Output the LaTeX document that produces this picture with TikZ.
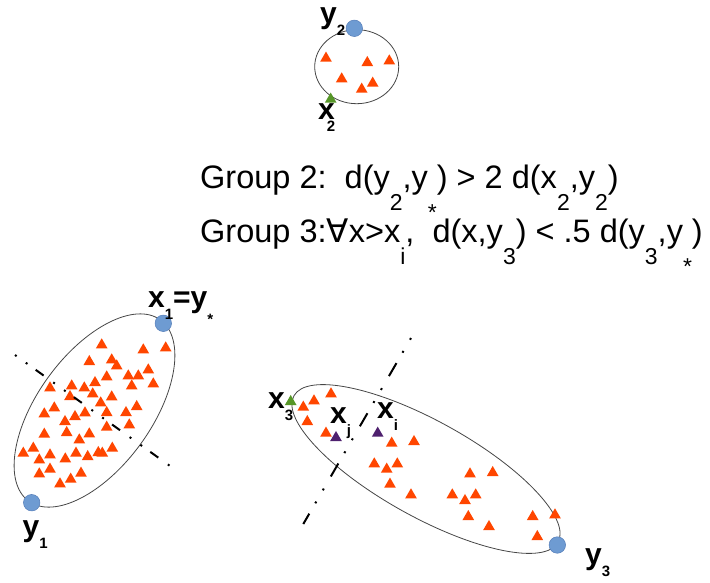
\documentclass[tikz,border=0pt]{standalone}
\usepackage{fontspec}
\setmainfont{Liberation Sans}
\newfontfamily\symfont{DejaVu Sans}
\usetikzlibrary{shapes.geometric}
\definecolor{ptorange}{RGB}{255,70,0}
\definecolor{ptgreen}{RGB}{86,150,40}
\definecolor{ptpurple}{RGB}{78,32,110}
\definecolor{ptblue}{RGB}{110,155,210}
\definecolor{ptblueedge}{RGB}{85,125,185}
\definecolor{rimgray}{RGB}{70,70,70}
\newcommand\tsub[1]{\raisebox{-22pt}{\fontsize{23}{23}\selectfont #1}}
\newcommand\tstar{\raisebox{-32pt}{\fontsize{23}{23}\selectfont *}}
\newcommand\lsub[1]{\raisebox{-12pt}{\fontsize{15}{15}\selectfont #1}}
\newcommand\lstar{\raisebox{-17pt}{\fontsize{15}{15}\selectfont *}}

\begin{document}
\begin{tikzpicture}[x=1pt,y=-1pt,
  tri/.style={regular polygon,regular polygon sides=3,minimum size=13.5pt,inner sep=0pt,fill=#1},
  bluept/.style={circle,fill=ptblue,draw=ptblueedge,line width=0.5pt,minimum size=16.5pt,inner sep=0pt},
  rim/.style={ellipse,draw=rimgray,line width=0.8pt,inner sep=0pt},
  lbl/.style={font=\fontsize{30}{30}\selectfont\bfseries,inner sep=0pt,anchor=base west},
  eqline/.style={font=\fontsize{32.5}{36}\selectfont,inner sep=0pt,anchor=base west},
  cutline/.style={line width=2pt}
]
  \useasboundingbox (0,0) rectangle (710,582);
  % Group 1
  \node[rim,minimum width=224pt,minimum height=114pt,rotate=54] (g1) at (94.5,410.5) {};
  \foreach \px/\py [count=\k] in {101.7/345,143.3/350,165.7/348,89.3/361.7,111.7/360,116.7/366,
      128.3/376,138.3/376,148.3/370,106.7/377,95/382.7,131.7/386,153.3/384,50/388,71.7/386,
      84.3/388,70/396.7,92.7/394,111.7/397,100.7/403,54.3/408,44.3/414,85/413,75/416.7,65/421.7,
      106.7/412.7,126/412.7,136.7/406.7,129.3/425,106.7/427.3,66.7/432.7,44.3/434.3,89.3/434,
      79.3/440,33.3/448.3,23.3/453.3,50/455,39.3/460,65.3/459,76/453.3,87.7/456.7,98.3/452.7,
      102.3/453.3,112.3/448.3,50/469.3,39.3/474,81/473.3,70.7/479.3,60/484}
    \node[tri=ptorange] (a\k) at (\px,\py) {};
  \coordinate (c1a) at (15,355);
  \coordinate (c1b) at (170,466);
  \draw[cutline,dash pattern=on 2pt off 11.3pt on 2pt off 10.1pt on 9.8pt off 11.8pt] (c1a) -- (c1b);
  \node[bluept] (y1) at (31.7,502.7) {};
  \node[bluept] (x1) at (163.3,323.3) {};
  \node[lbl] (ly1) at (22.5,536) {y\lsub{1}};
  \node[lbl] (lx1) at (148,307) {x\lsub{1}=y\lstar};
  % Group 2
  \node[rim,minimum width=84pt,minimum height=74pt] (g2) at (356.7,66.7) {};
  \foreach \px/\py [count=\k] in {326/58.3,367.3/62.7,389.3/61,341.7/79,372.7/83.3,361.7/89.3}
    \node[tri=ptorange] (b\k) at (\px,\py) {};
  \node[bluept] (y2) at (354.3,28.3) {};
  \node[tri=ptgreen] (x2) at (330.7,99.3) {};
  \node[lbl] (ly2) at (320,23) {y\lsub{2}};
  \node[lbl] (lx2) at (318,119) {x\hspace{-8pt}\lsub{2}};
  % Group 3
  \node[rim,minimum width=302pt,minimum height=96pt,rotate=-29] (g3) at (426,469) {};
  \foreach \px/\py [count=\k] in {331/394,314/401,303.3/407.3,307.3/421.7,326/433.3,391.7/443.3,
      414/441.7,374.3/464,386.7/469.3,397.3/464,390/484.3,411/495,470/474,492.7/472.7,452.3/495,
      465/500.7,475.7/495,468.3/516.7,489/526.7,532.7/516.7,555/515,537.3/536.7}
    \node[tri=ptorange] (c\k) at (\px,\py) {};
  \coordinate (c3a) at (411,338);
  \coordinate (c3b) at (303.3,524);
  \draw[cutline,dash pattern=on 2pt off 13pt on 2pt off 12pt on 15pt off 14pt] (c3a) -- (c3b);
  \node[tri=ptgreen] (x3) at (290.7,401.7) {};
  \node[tri=ptpurple] (xj) at (336,437.7) {};
  \node[tri=ptpurple] (xi) at (377.7,433.3) {};
  \node[bluept] (y3) at (557.3,545) {};
  \node[lbl] (lx3) at (268,408) {x\lsub{3}};
  \node[lbl] (lxj) at (330,423) {x\lsub{j}};
  \node[lbl] (lxi) at (377,418) {x\lsub{i}};
  \node[lbl] (ly3) at (585,564) {y\lsub{3}};
  % Conditions
  \node[eqline] (cond2) at (200,188.3) {Group 2:\ \ d(y\tsub{2},y\tstar) > 2 d(x\tsub{2},y\tsub{2})};
  \node[eqline] (cond3) at (200,242.3) {Group 3:{\symfont ∀}x>x\tsub{i},\ \ d(x,y\tsub{3}) < .5 d(y\tsub{3},y\tstar)};
\end{tikzpicture}
\end{document}
